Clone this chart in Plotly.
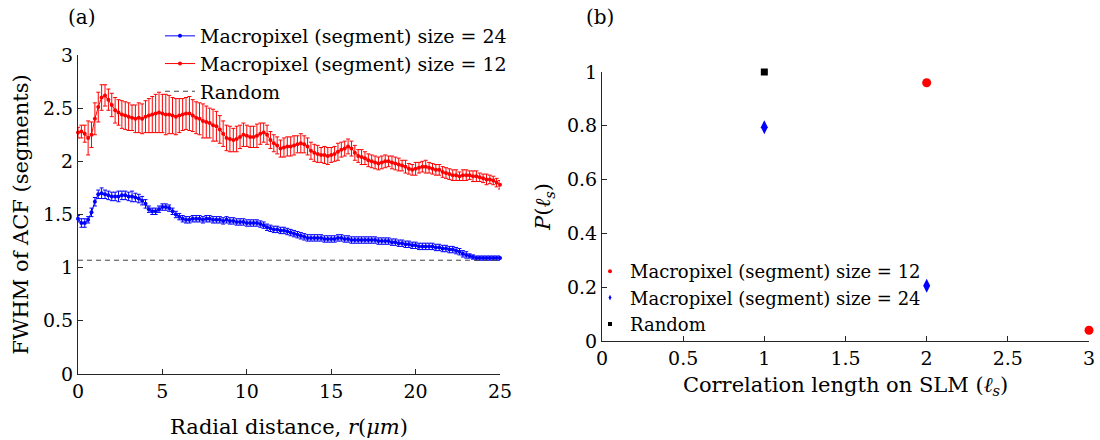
import plotly.graph_objects as go

# ---------------- data: panel (a) ----------------
R_UM = [0.0, 0.2, 0.4, 0.6, 0.8, 1.0, 1.2, 1.4, 1.6, 1.8,
        2.0, 2.2, 2.4, 2.6, 2.8, 3.0, 3.2, 3.4, 3.6, 3.8,
        4.0, 4.2, 4.4, 4.6, 4.8, 5.0, 5.2, 5.4, 5.6, 5.8,
        6.0, 6.2, 6.4, 6.6, 6.8, 7.0, 7.2, 7.4, 7.6, 7.8,
        8.0, 8.2, 8.4, 8.6, 8.8, 9.0, 9.2, 9.4, 9.6, 9.8,
        10.0, 10.2, 10.4, 10.6, 10.8, 11.0, 11.2, 11.4, 11.6, 11.8,
        12.0, 12.2, 12.4, 12.6, 12.8, 13.0, 13.2, 13.4, 13.6, 13.8,
        14.0, 14.2, 14.4, 14.6, 14.8, 15.0, 15.2, 15.4, 15.6, 15.8,
        16.0, 16.2, 16.4, 16.6, 16.8, 17.0, 17.2, 17.4, 17.6, 17.8,
        18.0, 18.2, 18.4, 18.6, 18.8, 19.0, 19.2, 19.4, 19.6, 19.8,
        20.0, 20.2, 20.4, 20.6, 20.8, 21.0, 21.2, 21.4, 21.6, 21.8,
        22.0, 22.2, 22.4, 22.6, 22.8, 23.0, 23.2, 23.4, 23.6, 23.8,
        24.0, 24.2, 24.4, 24.6, 24.8, 25.0]

FWHM_24 = [1.46, 1.42, 1.42, 1.45, 1.52, 1.62, 1.69, 1.70, 1.69, 1.68,
           1.67, 1.67, 1.67, 1.68, 1.68, 1.67, 1.67, 1.66, 1.65, 1.63,
           1.60, 1.55, 1.53, 1.53, 1.55, 1.57, 1.57, 1.56, 1.53, 1.50,
           1.48, 1.46, 1.45, 1.45, 1.46, 1.46, 1.46, 1.45, 1.46, 1.46,
           1.45, 1.45, 1.45, 1.44, 1.45, 1.44, 1.44, 1.43, 1.43, 1.43,
           1.42, 1.42, 1.42, 1.42, 1.41, 1.40, 1.38, 1.37, 1.36, 1.36,
           1.35, 1.35, 1.34, 1.33, 1.32, 1.31, 1.30, 1.29, 1.28, 1.28,
           1.28, 1.28, 1.28, 1.27, 1.27, 1.27, 1.27, 1.28, 1.28, 1.27,
           1.27, 1.26, 1.26, 1.26, 1.26, 1.26, 1.26, 1.26, 1.26, 1.25,
           1.25, 1.25, 1.25, 1.24, 1.24, 1.23, 1.23, 1.22, 1.22, 1.21,
           1.21, 1.20, 1.20, 1.20, 1.20, 1.20, 1.19, 1.19, 1.18, 1.18,
           1.17, 1.17, 1.16, 1.15, 1.13, 1.12, 1.11, 1.10, 1.09, 1.09,
           1.09, 1.09, 1.09, 1.09, 1.09, 1.09]

ERR_24 = [0.03, 0.04, 0.04, 0.03, 0.04, 0.04, 0.04, 0.05, 0.04, 0.04,
          0.04, 0.04, 0.05, 0.04, 0.04, 0.04, 0.05, 0.04, 0.04, 0.04,
          0.04, 0.03, 0.03, 0.03, 0.03, 0.03, 0.03, 0.03, 0.03, 0.03,
          0.03, 0.03, 0.03, 0.03, 0.03, 0.03, 0.03, 0.03, 0.03, 0.03,
          0.03, 0.03, 0.03, 0.03, 0.03, 0.03, 0.03, 0.03, 0.03, 0.03,
          0.03, 0.03, 0.03, 0.03, 0.03, 0.03, 0.03, 0.03, 0.03, 0.03,
          0.03, 0.03, 0.03, 0.03, 0.03, 0.03, 0.03, 0.03, 0.03, 0.03,
          0.03, 0.03, 0.03, 0.03, 0.03, 0.03, 0.03, 0.03, 0.03, 0.03,
          0.03, 0.03, 0.03, 0.03, 0.03, 0.03, 0.03, 0.03, 0.03, 0.03,
          0.03, 0.03, 0.03, 0.03, 0.03, 0.03, 0.03, 0.03, 0.03, 0.03,
          0.03, 0.03, 0.03, 0.03, 0.03, 0.03, 0.03, 0.03, 0.03, 0.03,
          0.03, 0.03, 0.03, 0.03, 0.03, 0.03, 0.02, 0.02, 0.02, 0.02,
          0.02, 0.02, 0.02, 0.02, 0.02, 0.02]

FWHM_12 = [2.27, 2.28, 2.26, 2.22, 2.25, 2.40, 2.51, 2.60, 2.62, 2.58,
           2.53, 2.48, 2.46, 2.44, 2.43, 2.42, 2.41, 2.40, 2.41, 2.40,
           2.42, 2.43, 2.44, 2.45, 2.46, 2.45, 2.44, 2.44, 2.43, 2.42,
           2.43, 2.44, 2.45, 2.45, 2.43, 2.41, 2.40, 2.38, 2.37, 2.36,
           2.34, 2.33, 2.30, 2.26, 2.22, 2.21, 2.20, 2.21, 2.23, 2.25,
           2.24, 2.23, 2.23, 2.24, 2.26, 2.27, 2.25, 2.20, 2.17, 2.15,
           2.12, 2.13, 2.14, 2.14, 2.15, 2.16, 2.17, 2.16, 2.14, 2.10,
           2.08, 2.07, 2.06, 2.06, 2.05, 2.06, 2.07, 2.09, 2.11, 2.12,
           2.14, 2.12, 2.08, 2.05, 2.04, 2.03, 2.01, 2.00, 1.99, 1.98,
           1.99, 2.00, 2.00, 1.99, 1.98, 1.97, 1.96, 1.95, 1.93, 1.92,
           1.93, 1.94, 1.95, 1.95, 1.94, 1.93, 1.92, 1.92, 1.90, 1.89,
           1.88, 1.87, 1.87, 1.86, 1.87, 1.87, 1.87, 1.86, 1.86, 1.85,
           1.84, 1.83, 1.83, 1.82, 1.80, 1.78]

ERR_12 = [0.05, 0.06, 0.08, 0.16, 0.12, 0.15, 0.14, 0.12, 0.10, 0.10,
          0.11, 0.12, 0.12, 0.13, 0.13, 0.13, 0.12, 0.13, 0.14, 0.14,
          0.15, 0.16, 0.17, 0.18, 0.19, 0.18, 0.19, 0.18, 0.17, 0.17,
          0.16, 0.15, 0.15, 0.16, 0.15, 0.15, 0.15, 0.16, 0.15, 0.14,
          0.15, 0.14, 0.13, 0.12, 0.12, 0.12, 0.11, 0.12, 0.11, 0.11,
          0.10, 0.10, 0.10, 0.11, 0.10, 0.09, 0.09, 0.08, 0.08, 0.08,
          0.08, 0.09, 0.09, 0.09, 0.09, 0.08, 0.09, 0.08, 0.08, 0.08,
          0.08, 0.08, 0.07, 0.08, 0.08, 0.07, 0.07, 0.08, 0.07, 0.07,
          0.07, 0.07, 0.07, 0.06, 0.07, 0.06, 0.06, 0.06, 0.06, 0.06,
          0.06, 0.06, 0.05, 0.06, 0.06, 0.06, 0.05, 0.06, 0.05, 0.05,
          0.06, 0.05, 0.05, 0.06, 0.05, 0.05, 0.05, 0.05, 0.05, 0.05,
          0.05, 0.05, 0.05, 0.04, 0.05, 0.05, 0.04, 0.05, 0.05, 0.04,
          0.04, 0.05, 0.04, 0.04, 0.04, 0.04]

RANDOM_FWHM = 1.07

# ---------------- data: panel (b) ----------------
ELL_12 = [2, 3]
P_12 = [0.96, 0.04]
ELL_24 = [1, 2]
P_24 = [0.795, 0.205]
ELL_RANDOM = [1]
P_RANDOM = [1.0]

FONT = "DejaVu Serif, Liberation Serif, serif"
AXC = "#262626"

fig = go.Figure()

# panel (a)
fig.add_trace(go.Scatter(
    x=R_UM, y=FWHM_24, mode="lines+markers",
    name="Macropixel (segment) size = 24",
    line=dict(color="#0000ff", width=1),
    marker=dict(color="#0000ff", size=4),
    error_y=dict(type="data", array=ERR_24, color="#0000ff", thickness=1, width=2),
    xaxis="x", yaxis="y", legend="legend", cliponaxis=False))
fig.add_trace(go.Scatter(
    x=R_UM, y=FWHM_12, mode="lines+markers",
    name="Macropixel (segment) size = 12",
    line=dict(color="#ff0000", width=1),
    marker=dict(color="#ff0000", size=4),
    error_y=dict(type="data", array=ERR_12, color="#ff0000", thickness=1, width=2),
    xaxis="x", yaxis="y", legend="legend", cliponaxis=False))
fig.add_trace(go.Scatter(
    x=[R_UM[0], R_UM[-1]], y=[RANDOM_FWHM, RANDOM_FWHM], mode="lines",
    name="Random", line=dict(color="#444444", width=1, dash="5px,4px"),
    xaxis="x", yaxis="y", legend="legend"))

# panel (b) - data markers
fig.add_trace(go.Scatter(x=ELL_12, y=P_12, mode="markers", showlegend=False,
                         marker=dict(symbol="circle", color="#ff0000", size=9),
                         xaxis="x2", yaxis="y2", cliponaxis=False))
fig.add_trace(go.Scatter(x=ELL_24, y=P_24, mode="markers", showlegend=False,
                         marker=dict(symbol="diamond-tall", color="#0000ff", size=10),
                         xaxis="x2", yaxis="y2", cliponaxis=False))
fig.add_trace(go.Scatter(x=ELL_RANDOM, y=P_RANDOM, mode="markers", showlegend=False,
                         marker=dict(symbol="square", color="#000000", size=7),
                         xaxis="x2", yaxis="y2", cliponaxis=False))
# panel (b) - legend entries (small markers, as in the original)
fig.add_trace(go.Scatter(x=[None], y=[None], mode="markers",
                         name="Macropixel (segment) size = 12",
                         marker=dict(symbol="circle", color="#ff0000", size=4),
                         xaxis="x2", yaxis="y2", legend="legend2"))
fig.add_trace(go.Scatter(x=[None], y=[None], mode="markers",
                         name="Macropixel (segment) size = 24",
                         marker=dict(symbol="diamond-tall", color="#0000ff", size=4),
                         xaxis="x2", yaxis="y2", legend="legend2"))
fig.add_trace(go.Scatter(x=[None], y=[None], mode="markers",
                         name="Random",
                         marker=dict(symbol="square", color="#000000", size=4),
                         xaxis="x2", yaxis="y2", legend="legend2"))

axis_common = dict(showline=True, linecolor=AXC, linewidth=1, ticks="inside",
                   ticklen=5, tickcolor=AXC, showgrid=False, zeroline=False,
                   tickfont=dict(family=FONT, size=19, color="#000"),
                   automargin=False)

fig.update_layout(
    width=1100, height=440,
    margin=dict(l=0, r=0, t=0, b=0),
    paper_bgcolor="white", plot_bgcolor="white",
    font=dict(family=FONT, size=20, color="#000"),
    xaxis=dict(domain=[78/1100, 500/1100], range=[0, 25], tick0=0, dtick=5,
               anchor="y",
               title=dict(text="Radial distance, <i>r</i>(<i>μm</i>)",
                          font=dict(family=FONT, size=21), standoff=18),
               **axis_common),
    yaxis=dict(domain=[(440-374)/440, (440-55)/440], range=[0, 3], tick0=0, dtick=0.5,
               anchor="x",
               title=dict(text="FWHM of ACF (segments)",
                          font=dict(family=FONT, size=21), standoff=8),
               **axis_common),
    xaxis2=dict(domain=[602/1100, 1089/1100], range=[0, 3], tick0=0, dtick=0.5,
                anchor="y2",
                title=dict(text="Correlation length on SLM (<i>ℓ<sub>s</sub></i>)",
                           font=dict(family=FONT, size=21), standoff=9),
                **axis_common),
    yaxis2=dict(domain=[(440-341)/440, (440-72)/440], range=[0, 1], tick0=0, dtick=0.2,
                anchor="x2",
                title=dict(text="<i>P</i>(<i>ℓ<sub>s</sub></i>)",
                           font=dict(family=FONT, size=21), standoff=10),
                **axis_common),
    legend=dict(x=160/1100, y=1 - 17/440, xanchor="left", yanchor="top",
                bgcolor="rgba(0,0,0,0)", font=dict(family=FONT, size=19),
                tracegroupgap=0, itemwidth=30),
    legend2=dict(x=590/1100, y=1 - 253/440, xanchor="left", yanchor="top",
                 bgcolor="rgba(0,0,0,0)", font=dict(family=FONT, size=18),
                 tracegroupgap=0, itemwidth=30),
    annotations=[
        dict(text="(a)", x=66/1100, y=1 - 3/440, xref="paper", yref="paper",
             xanchor="left", yanchor="top", showarrow=False,
             font=dict(family=FONT, size=20)),
        dict(text="(b)", x=584/1100, y=1 - 3/440, xref="paper", yref="paper",
             xanchor="left", yanchor="top", showarrow=False,
             font=dict(family=FONT, size=20)),
    ],
)

fig.write_html("out.html")
